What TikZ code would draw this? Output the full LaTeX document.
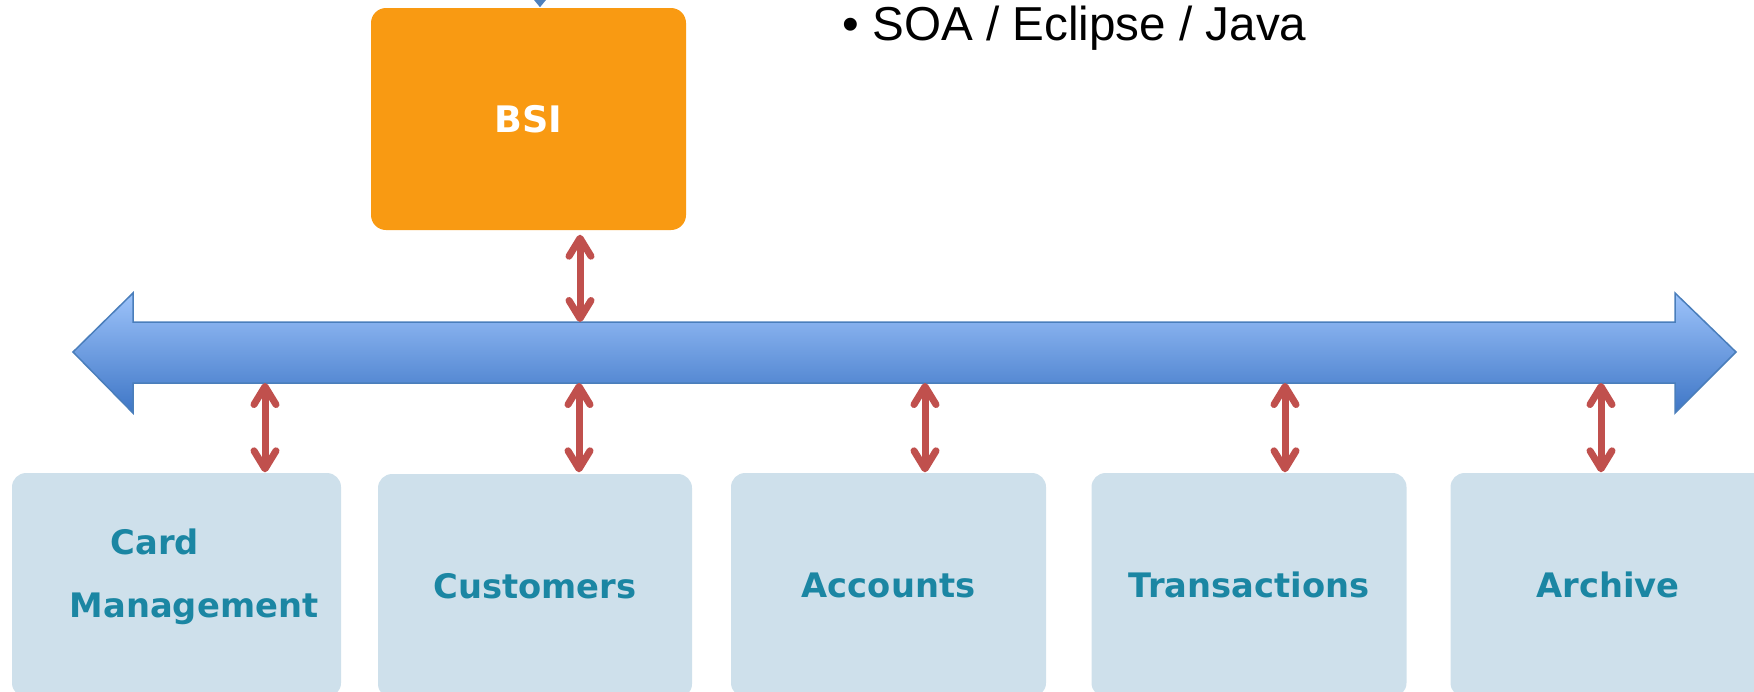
\documentclass[tikz,border=0pt]{standalone}
\usepackage{fontspec}
\newfontfamily\boxfont{DejaVu Sans}
\newfontfamily\listfont{Liberation Sans}
\usetikzlibrary{arrows.meta}
\definecolor{bsiorange}{HTML}{F99A12}
\definecolor{modfill}{HTML}{CEE0EB}
\definecolor{modtext}{HTML}{1B86A3}
\definecolor{linkred}{HTML}{C0504D}
\definecolor{busedge}{HTML}{4A7EBB}
\definecolor{bustop}{HTML}{9DC3FA}
\definecolor{busbot}{HTML}{3E76C6}
\definecolor{feedblue}{HTML}{4F81BD}
\begin{document}
\begin{tikzpicture}[x=0.1mm,y=-0.1mm,
    module/.style={rectangle, rounded corners=1.4mm, fill=modfill, minimum height=22.4mm,
                   text=modtext, font=\boxfont\bfseries\fontsize{9.6}{12}\selectfont},
    link/.style={draw=linkred, line width=0.7mm,
                 {Straight Barb[length=1.8mm,width=2.2mm,line cap=round,line join=round]}-{Straight Barb[length=1.8mm,width=2.2mm,line cap=round,line join=round]}},
    feed/.style={draw=feedblue, line width=0.4mm, -{Triangle[length=1.4mm,width=2.2mm]}}]
       \useasboundingbox (0,0) rectangle (1754,691);
       \clip (0,0) rectangle (1754,691);
       % BSI block
       \node[rectangle, rounded corners=1.5mm, fill=bsiorange, minimum width=31.5mm, minimum height=22.2mm,
             text=white, font=\boxfont\bfseries\fontsize{10.4}{12}\selectfont] (bsi) at (528.5,119) {BSI};
       \coordinate (feedin) at (540,-80);
       \draw[feed] (feedin) -- (bsi.north -| feedin);
       \node[anchor=base west, font=\listfont\fontsize{13.55}{16}\selectfont] (soa) at (830,40) {• SOA / Eclipse / Java};
       % bus
       \draw[busedge, line width=0.15mm, top color=bustop, bottom color=busbot]
            (73,352) -- (133,293) -- (133,322) -- (1675,322) -- (1675,293) -- (1736,352)
            -- (1675,413) -- (1675,383) -- (133,383) -- (133,413) -- cycle;
       \coordinate (bsiport) at (580,322);
       \coordinate (p1) at (265,383);
       \coordinate (p2) at (579,383);
       \coordinate (p3) at (925,383);
       \coordinate (p4) at (1285,383);
       \coordinate (p5) at (1601,383);
       % modules
       \node[module, minimum width=32.9mm] (card) at (176.5,585) {};
       \node[module, minimum width=31.4mm] (cust) at (535,586) {Customers};
       \node[module, minimum width=31.5mm] (acct) at (888.5,585) {Accounts};
       \node[module, minimum width=31.5mm] (trans) at (1249,585) {Transactions};
       \node[module, minimum width=31.5mm] (arch) at (1608,585) {Archive};
       \node[align=left, text=modtext, font=\boxfont\bfseries\fontsize{9.6}{17.9}\selectfont] (cardtxt)
             at (194,577) {\hspace*{4.1mm}Card\\Management};
       % links
       \draw[link] (bsiport) -- ([yshift=-0.4mm]bsi.south -| bsiport);
       \draw[link] (p1) -- (p1 |- card.north);
       \draw[link] (p2) -- (p2 |- acct.north);
       \draw[link] (p3) -- (p3 |- acct.north);
       \draw[link] (p4) -- (p4 |- trans.north);
       \draw[link] (p5) -- (p5 |- arch.north);
\end{tikzpicture}
\end{document}
